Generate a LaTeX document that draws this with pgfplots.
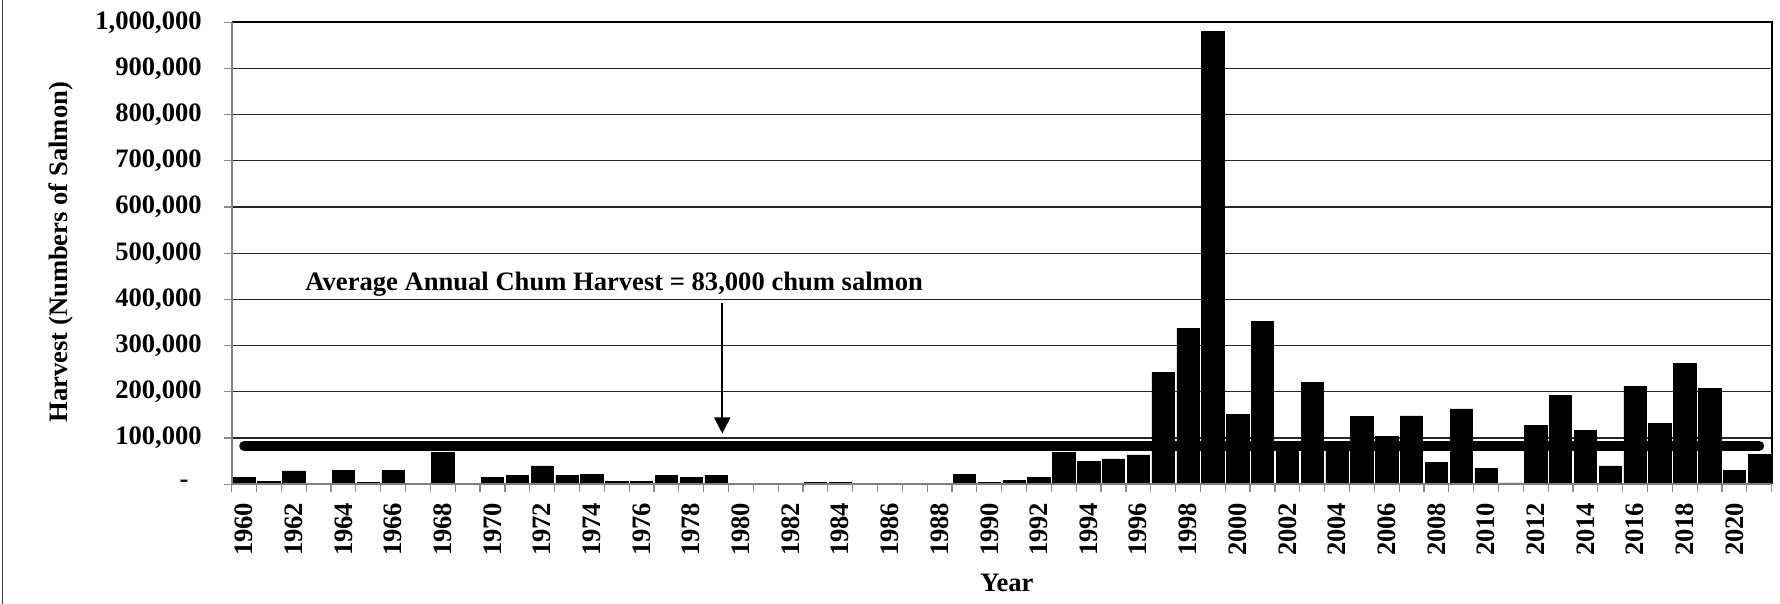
\documentclass[border=0pt]{standalone}
\usepackage{fontspec}
\setmainfont{Liberation Serif}
\usepackage{pgfplots}
\pgfplotsset{compat=1.18}
\usetikzlibrary{arrows.meta}
\pgfplotstableread{
year harvest
1960 15000
1961 7000
1962 29000
1963 2500
1964 30000
1965 4500
1966 30000
1967 0
1968 69000
1969 1000
1970 14500
1971 19000
1972 40000
1973 20000
1974 21500
1975 6000
1976 7000
1977 20000
1978 14500
1979 20000
1980 800
1981 800
1982 800
1983 4300
1984 4300
1985 500
1986 2200
1987 0
1988 0
1989 21700
1990 4300
1991 8000
1992 14500
1993 69600
1994 49300
1995 55100
1996 63800
1997 242000
1998 338000
1999 981000
2000 151000
2001 352000
2002 88000
2003 220000
2004 86000
2005 147000
2006 104000
2007 148000
2008 47000
2009 163000
2010 35000
2011 3000
2012 128000
2013 192000
2014 117000
2015 40000
2016 212000
2017 132000
2018 261000
2019 208000
2020 30000
2021 64000
}\harvesttable
\begin{document}
\begin{tikzpicture}[font=\fontsize{13.3}{16}\selectfont\bfseries]
\useasboundingbox (-115.85pt,-59.85pt) rectangle (774.15pt,242.15pt);
\draw[black!75, line width=0.6pt] (-114.6pt,-59.85pt) -- (-114.6pt,242.15pt);
\begin{axis}[
  at={(0,0)}, anchor=south west,
  scale only axis, width=770pt, height=231pt,
  xmin=1959.5, xmax=2021.5, ymin=0, ymax=1000000,
  axis line style={draw=none},
  ymajorgrids, major grid style={black!85, line width=0.6pt},
  scaled y ticks=false,
  tick pos=left,
  ytick={0,100000,200000,300000,400000,500000,600000,700000,800000,900000,1000000},
  yticklabels={{-\hphantom{0}},{100,000},{200,000},{300,000},{400,000},{500,000},{600,000},{700,000},{800,000},{900,000},{1,000,000}},
  xtick={1960,1962,...,2020},
  xticklabels={1960,1962,1964,1966,1968,1970,1972,1974,1976,1978,1980,1982,1984,1986,1988,1990,1992,1994,1996,1998,2000,2002,2004,2006,2008,2010,2012,2014,2016,2018,2020},
  minor xtick={1959.5,1960.5,...,2021.5},
  tick align=outside,
  major tick length=4pt, minor tick length=4pt,
  major x tick style={draw=none},
  minor x tick style={black!45, line width=0.6pt},
  major y tick style={black!45, line width=0.6pt},
  tick label style={font=\fontsize{13.3}{16}\selectfont\bfseries},
  xticklabel style={rotate=90, anchor=east, inner sep=0pt},
  xticklabel shift=5pt,
  yticklabel style={anchor=east, inner sep=0pt},
  yticklabel shift=10.8pt,
  /pgf/number format/assume math mode=true,
]
\addplot[ybar, bar width=0.9, fill=black, draw=black, line width=0.3pt] table[x=year, y=harvest] {\harvesttable};
\addplot[black, line width=4.9pt, line cap=round] coordinates {(1960,83000) (2021,83000)};
\draw[-{Triangle[length=8pt,width=8pt]}, line width=0.8pt] (axis cs:1979.25,392000) -- (axis cs:1979.25,110000);
\node[anchor=base, inner sep=0pt] at (axis cs:1974.9,419000) {Average Annual Chum Harvest = 83,000 chum salmon};
\end{axis}
\draw[black, line width=0.9pt] (0,231pt) -- (770pt,231pt) -- (770pt,0);
\draw[black!50, line width=0.9pt] (0,231pt) -- (0,0) -- (770pt,0);
\node[rotate=90, anchor=base, inner sep=0pt] at (-82pt,116pt) {Harvest (Numbers of Salmon)};
\node[anchor=base, inner sep=0pt] at (387.6pt,-53.5pt) {Year};
\end{tikzpicture}
\end{document}
